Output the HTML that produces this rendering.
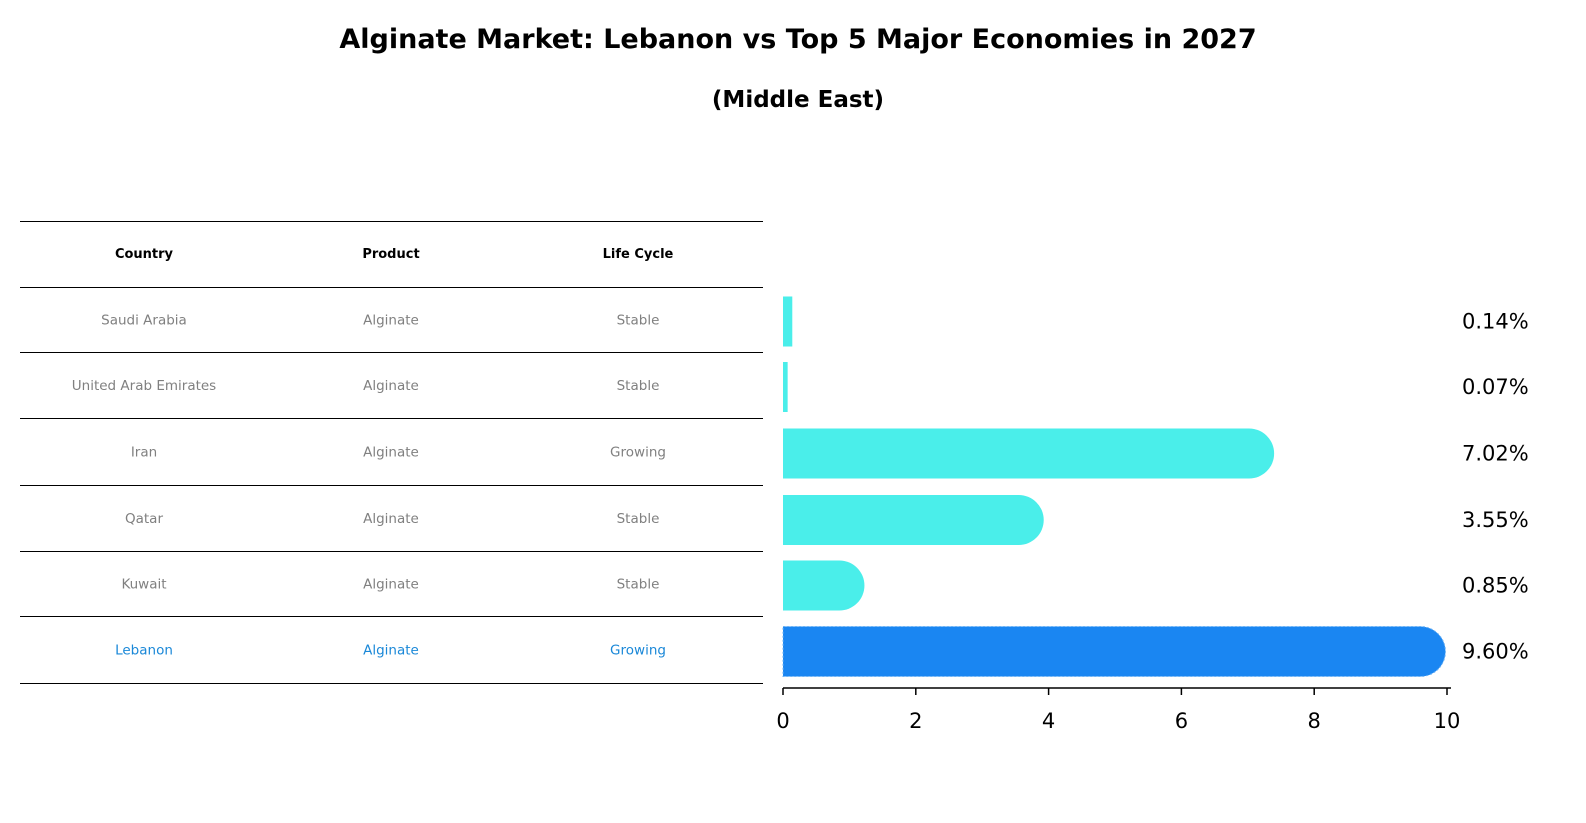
<!DOCTYPE html>
<html><head><meta charset="utf-8"><style>
html,body{margin:0;padding:0;background:#fff;overflow:hidden;width:1586px;height:823px;font-family:"DejaVu Sans","Liberation Sans",sans-serif;}
svg{display:block;}
</style></head><body>
<svg width="1586" height="823" xmlns="http://www.w3.org/2000/svg" font-family="DejaVu Sans, Liberation Sans, sans-serif">
<text x="798" y="48" text-anchor="middle" font-size="27" font-weight="bold">Alginate Market: Lebanon vs Top 5 Major Economies in 2027</text>
<text x="798" y="107" text-anchor="middle" font-size="23" font-weight="bold">(Middle East)</text>
<g id="table"></g>
<g id="bars"></g>
</svg>
<script>
const countries=["Saudi Arabia","United Arab Emirates","Iran","Qatar","Kuwait","Lebanon"];
const products=["Alginate","Alginate","Alginate","Alginate","Alginate","Alginate"];
const lifeCycles=["Stable","Stable","Growing","Stable","Stable","Growing"];
const values=[0.14,0.07,7.02,3.55,0.85,9.60];
const ticks=[0,2,4,6,8,10];
const NS="http://www.w3.org/2000/svg";
function mk(t,a,p){const e=document.createElementNS(NS,t);for(const k in a)e.setAttribute(k,a[k]);p.appendChild(e);return e;}
const tbl=document.getElementById('table'),bars=document.getElementById('bars');
const lines=[221,287,352,418,485,551,616,683];
lines.forEach(y=>{const l=mk('line',{x1:20,x2:763,y1:y+0.5,y2:y+0.5,stroke:'#000','stroke-width':1},tbl);

});
const cols=[144,391,638];
["Country","Product","Life Cycle"].forEach((h,i)=>{const t=mk('text',{x:cols[i],y:258,'text-anchor':'middle','font-size':13,'font-weight':'bold'},tbl);t.textContent=h;

});
const x=v=>783+v*66.4;
const rowY=i=>(lines[i+1]+lines[i+2])/2;
countries.forEach((c,i)=>{
 const col=i===5?'#1a88d8':'#808080';
 [c,products[i],lifeCycles[i]].forEach((s,j)=>{const t=mk('text',{x:cols[j],y:rowY(i)+5,'text-anchor':'middle','font-size':13.5,fill:col},tbl);t.textContent=s;
 
 });
 const cy=rowY(i)+2,h=50,y0=cy-h/2,v=values[i];
 const fill=i===5?'#1a86f2':'#4aeeea';
 let d;
 if(v>0.5){const xe=x(v);d=`M${x(0)},${y0}H${xe}A25,25 0 0 1 ${xe},${y0+h}H${x(0)}Z`;}
 else d=`M${x(0)},${y0}H${x(v)}V${y0+h}H${x(0)}Z`;
 const b=mk('path',{d:d,fill:fill},bars);
 if(i===5){b.setAttribute('stroke','#6fb4f5');b.setAttribute('stroke-dasharray','2,2');b.setAttribute('stroke-width','1');}
 
 
 const t=mk('text',{x:1462,y:cy+7,'font-size':21},bars);t.textContent=v.toFixed(2)+'%';
 
 
});
const ax=mk('line',{x1:783,x2:1451,y1:688,y2:688,stroke:'#000','stroke-width':1.5},bars);


ticks.forEach(tv=>{const l=mk('line',{x1:x(tv),x2:x(tv),y1:688,y2:695,stroke:'#000','stroke-width':1.5},bars);


const t=mk('text',{x:x(tv),y:728,'text-anchor':'middle','font-size':21},bars);t.textContent=tv;

});
</script>
</body></html>
